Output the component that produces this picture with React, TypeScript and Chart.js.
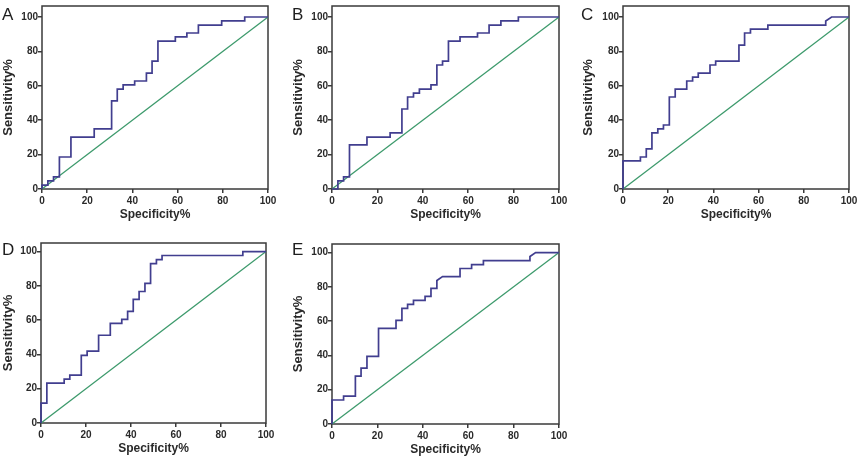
import React, { useEffect, useRef } from 'react';
import { Chart, registerables } from 'chart.js';

Chart.register(...registerables);

// ---- data -------------------------------------------------------------
type Pt = [number, number];

const axisTicks = [0, 20, 40, 60, 80, 100];
const xTitle = 'Specificity%';
const yTitle = 'Sensitivity%';
const panelLabels = ['A', 'B', 'C', 'D', 'E'];

// ROC vertices: [100 - specificity %, sensitivity %]
const rocA: Pt[] = [
  [0, 0], [0, 2.3], [2.6, 2.3], [2.6, 4.7], [5.1, 4.7], [5.1, 7.0], [7.7, 7.0], [7.7, 18.6],
  [12.8, 18.6], [12.8, 30.2], [23.1, 30.2], [23.1, 34.9], [30.8, 34.9], [30.8, 51.2],
  [33.3, 51.2], [33.3, 58.1], [35.9, 58.1], [35.9, 60.5], [41.0, 60.5], [41.0, 62.8],
  [46.2, 62.8], [46.2, 67.4], [48.7, 67.4], [48.7, 74.4], [51.3, 74.4], [51.3, 86.0],
  [59.0, 86.0], [59.0, 88.4], [64.1, 88.4], [64.1, 90.7], [69.2, 90.7], [69.2, 95.3],
  [79.5, 95.3], [79.5, 97.7], [89.7, 97.7], [89.7, 100], [100, 100],
];

const rocB: Pt[] = [
  [0, 0], [2.6, 0], [2.6, 4.7], [5.1, 4.7], [5.1, 7.0], [7.7, 7.0], [7.7, 25.6],
  [15.4, 25.6], [15.4, 30.2], [25.6, 30.2], [25.6, 32.6], [30.8, 32.6], [30.8, 46.5],
  [33.3, 46.5], [33.3, 53.5], [35.9, 53.5], [35.9, 55.8], [38.5, 55.8], [38.5, 58.1],
  [43.6, 58.1], [43.6, 60.5], [46.2, 60.5], [46.2, 72.1], [48.7, 72.1], [48.7, 74.4],
  [51.3, 74.4], [51.3, 86.0], [56.4, 86.0], [56.4, 88.4], [64.1, 88.4], [64.1, 90.7],
  [69.2, 90.7], [69.2, 95.3], [74.4, 95.3], [74.4, 97.7], [82.1, 97.7], [82.1, 100], [100, 100],
];

const rocC: Pt[] = [
  [0, 0], [0, 16.3], [7.7, 16.3], [7.7, 18.6], [10.3, 18.6], [10.3, 23.3], [12.8, 23.3],
  [12.8, 32.6], [15.4, 32.6], [15.4, 34.9], [17.9, 34.9], [17.9, 37.2], [20.5, 37.2],
  [20.5, 53.5], [23.1, 53.5], [23.1, 58.1], [28.2, 58.1], [28.2, 62.8], [30.8, 62.8],
  [30.8, 65.1], [33.3, 65.1], [33.3, 67.4], [38.5, 67.4], [38.5, 72.1], [41.0, 72.1],
  [41.0, 74.4], [51.3, 74.4], [51.3, 83.7], [53.8, 83.7], [53.8, 90.7], [56.4, 90.7],
  [56.4, 93.0], [64.1, 93.0], [64.1, 95.3], [89.7, 95.3], [89.7, 97.7], [92.3, 100], [100, 100],
];

const rocD: Pt[] = [
  [0, 0], [0, 11.6], [2.6, 11.6], [2.6, 23.3], [10.3, 23.3], [10.3, 25.6], [12.8, 25.6],
  [12.8, 27.9], [17.9, 27.9], [17.9, 39.5], [20.5, 39.5], [20.5, 41.9], [25.6, 41.9],
  [25.6, 51.2], [30.8, 51.2], [30.8, 58.1], [35.9, 58.1], [35.9, 60.5], [38.5, 60.5],
  [38.5, 65.1], [41.0, 65.1], [41.0, 72.1], [43.6, 72.1], [43.6, 76.7], [46.2, 76.7],
  [46.2, 81.4], [48.7, 81.4], [48.7, 93.0], [51.3, 93.0], [51.3, 95.3], [53.8, 95.3],
  [53.8, 97.7], [89.7, 97.7], [89.7, 100], [100, 100],
];

const rocE: Pt[] = [
  [0, 0], [0, 14.0], [5.1, 14.0], [5.1, 16.3], [10.3, 16.3], [10.3, 27.9], [12.8, 27.9],
  [12.8, 32.6], [15.4, 32.6], [15.4, 39.5], [20.5, 39.5], [20.5, 55.8], [28.2, 55.8],
  [28.2, 60.5], [30.8, 60.5], [30.8, 67.4], [33.3, 67.4], [33.3, 69.8], [35.9, 69.8],
  [35.9, 72.1], [41.0, 72.1], [41.0, 74.4], [43.6, 74.4], [43.6, 79.1], [46.2, 79.1],
  [46.2, 83.7], [48.7, 86.0], [56.4, 86.0], [56.4, 90.7], [61.5, 90.7], [61.5, 93.0],
  [66.7, 93.0], [66.7, 95.3], [87.2, 95.3], [87.2, 97.7], [89.7, 100], [100, 100],
];

// line of no discrimination
const chanceLine: Pt[] = [[0, 0], [100, 100]];

const curves = [rocA, rocB, rocC, rocD, rocE];

// ---- layout & style ---------------------------------------------------
const FONT = '"Liberation Sans", Arial, Helvetica, sans-serif';
const AXIS = '#3a3a3a';
const TEXT = '#2a2a2a';
const CURVE = '#413e8f';
const CHANCE = '#3d9a6c';

type Frame = {
  x: number; y: number; w: number; h: number;
  l: number; r: number; t: number; b: number; yMax: number;
  lx: number; ly: number;
};

// canvas placement and plot-area edges (relative to each canvas)
const frames: Frame[] = [
  { x: 0, y: 0, w: 290, h: 230, l: 42, r: 268, t: 6, b: 189, yMax: 106.4, lx: 2, ly: 6 },
  { x: 290, y: 0, w: 290, h: 230, l: 42, r: 269, t: 6, b: 189, yMax: 106.4, lx: 292, ly: 6 },
  { x: 580, y: 0, w: 286, h: 230, l: 43, r: 269, t: 6, b: 189, yMax: 106.4, lx: 581, ly: 6 },
  { x: 0, y: 230, w: 290, h: 230, l: 41, r: 266, t: 13, b: 193, yMax: 105.0, lx: 2, ly: 241 },
  { x: 290, y: 230, w: 290, h: 230, l: 42, r: 269, t: 14, b: 194, yMax: 105.0, lx: 292, ly: 241 },
];

const frameBox = {
  id: 'frameBox',
  beforeDatasetsDraw(chart: any) {
    const { ctx, chartArea } = chart;
    const { left, top, right, bottom } = chartArea;
    ctx.save();
    ctx.strokeStyle = AXIS;
    ctx.lineWidth = 1.5;
    ctx.strokeRect(left, top, right - left, bottom - top);
    ctx.restore();
  },
};

const toXY = (pts: Pt[]) => pts.map(([x, y]) => ({ x, y }));
const fixedTicks = (scale: any) => {
  scale.ticks = axisTicks.map((v) => ({ value: v }));
};

function RocPanel({ frame, roc }: { frame: Frame; roc: Pt[] }) {
  const ref = useRef<HTMLCanvasElement | null>(null);

  useEffect(() => {
    if (!ref.current) return;
    const { w, h, l, r, t, b, yMax } = frame;
    const tickGrid = {
      display: true,
      drawOnChartArea: false,
      drawTicks: true,
      tickLength: 4,
      color: AXIS,
      lineWidth: 1.5,
    };
    const chart = new Chart(ref.current, {
      type: 'scatter',
      data: {
        datasets: [
          {
            data: toXY(roc),
            showLine: true,
            borderColor: CURVE,
            borderWidth: 1.7,
            pointRadius: 0,
            fill: false,
            tension: 0,
            clip: false as any,
          },
          {
            data: toXY(chanceLine),
            showLine: true,
            borderColor: CHANCE,
            borderWidth: 1.3,
            pointRadius: 0,
            fill: false,
            clip: false as any,
          },
        ],
      },
      options: {
        responsive: false,
        animation: false,
        events: [],
        layout: { padding: { left: 0, top: t, right: w - r, bottom: 0 } },
        plugins: { legend: { display: false }, tooltip: { enabled: false } },
        scales: {
          x: {
            type: 'linear',
            min: 0,
            max: 100,
            afterBuildTicks: fixedTicks,
            afterFit: (s: any) => { s.height = h - b; },
            grid: tickGrid,
            border: { display: false },
            ticks: {
              padding: 2,
              color: TEXT,
              maxRotation: 0,
              autoSkip: false,
              font: { family: FONT, size: 10, weight: 'bold' },
            },
            title: {
              display: true,
              text: xTitle,
              color: TEXT,
              font: { family: FONT, size: 12, weight: 'bold' },
              padding: { top: 0, bottom: 197.3 - b + (h - 230) },
            },
          },
          y: {
            type: 'linear',
            min: 0,
            max: yMax,
            afterBuildTicks: fixedTicks,
            afterFit: (s: any) => { s.width = l; },
            grid: tickGrid,
            border: { display: false },
            ticks: {
              padding: 0,
              color: TEXT,
              autoSkip: false,
              font: { family: FONT, size: 10, weight: 'bold', lineHeight: 1 },
            },
            title: {
              display: true,
              text: yTitle,
              color: TEXT,
              font: { family: FONT, size: 13, weight: 'bold' },
              padding: { top: 0.7, bottom: 0 },
            },
          },
        },
      } as any,
      plugins: [frameBox],
    });
    return () => chart.destroy();
  }, [frame, roc]);

  return (
    <canvas
      ref={ref}
      width={frame.w}
      height={frame.h}
      style={{ position: 'absolute', left: frame.x, top: frame.y, width: frame.w, height: frame.h }}
    />
  );
}

export default function App() {
  return (
    <div
      style={{
        position: 'absolute',
        left: 0,
        top: 0,
        width: 866,
        height: 460,
        background: '#ffffff',
        overflow: 'hidden',
      }}
    >
      {frames.map((f, i) => (
        <RocPanel key={panelLabels[i]} frame={f} roc={curves[i]} />
      ))}
      {frames.map((f, i) => (
        <div
          key={'lbl-' + panelLabels[i]}
          style={{
            position: 'absolute',
            left: f.lx,
            top: f.ly,
            fontFamily: FONT,
            fontSize: 17,
            lineHeight: '17px',
            color: '#1e1e1e',
          }}
        >
          {panelLabels[i]}
        </div>
      ))}
    </div>
  );
}
